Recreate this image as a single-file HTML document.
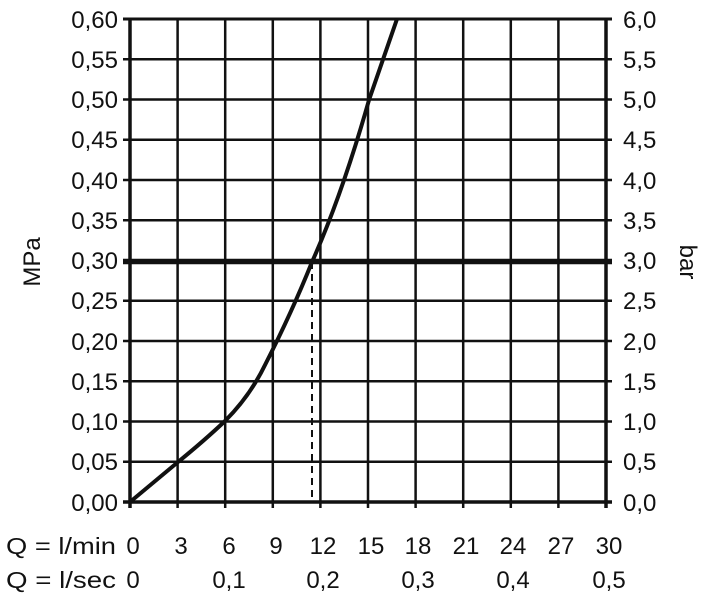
<!DOCTYPE html>
<html><head><meta charset="utf-8"><style>
body{margin:0;background:#fff}
svg text{font-family:"Liberation Sans",sans-serif;font-size:24px;fill:#111}
svg text.q{font-size:23px}
</style></head><body>
<svg width="704" height="600" xmlns="http://www.w3.org/2000/svg">
<g stroke="#111" stroke-width="2.5" fill="none">
<line x1="130" y1="19" x2="130" y2="508" stroke-width="3.5"/>
<line x1="606" y1="19" x2="606" y2="508" stroke-width="3.5"/>
<line x1="177.6" y1="19" x2="177.6" y2="508"/>
<line x1="225.2" y1="19" x2="225.2" y2="508"/>
<line x1="272.8" y1="19" x2="272.8" y2="508"/>
<line x1="320.4" y1="19" x2="320.4" y2="508"/>
<line x1="368" y1="19" x2="368" y2="508"/>
<line x1="415.6" y1="19" x2="415.6" y2="508"/>
<line x1="463.2" y1="19" x2="463.2" y2="508"/>
<line x1="510.8" y1="19" x2="510.8" y2="508"/>
<line x1="558.4" y1="19" x2="558.4" y2="508"/>
<line x1="123" y1="19" x2="612" y2="19" stroke-width="3"/>
<line x1="123" y1="59.25" x2="612" y2="59.25"/>
<line x1="123" y1="99.5" x2="612" y2="99.5"/>
<line x1="123" y1="139.75" x2="612" y2="139.75"/>
<line x1="123" y1="180" x2="612" y2="180"/>
<line x1="123" y1="220.25" x2="612" y2="220.25"/>
<line x1="123" y1="300.75" x2="612" y2="300.75"/>
<line x1="123" y1="341" x2="612" y2="341"/>
<line x1="123" y1="381.25" x2="612" y2="381.25"/>
<line x1="123" y1="421.5" x2="612" y2="421.5"/>
<line x1="123" y1="461.75" x2="612" y2="461.75"/>
<line x1="123" y1="502" x2="612" y2="502" stroke-width="3.5"/>
<line x1="123" y1="261.5" x2="612" y2="261.5" stroke-width="5.5"/>
<line x1="312" y1="262" x2="312" y2="502" stroke-width="2" stroke-dasharray="7,5"/>
<path d="M130,502 L178,462 Q205,440 225,421 Q250,396 265,365 Q292,312 312,262 Q342,195 369,100 L397,19" stroke-width="4"/>
</g>
<g text-anchor="end">
<text x="118" y="28">0,60</text><text x="118" y="68">0,55</text><text x="118" y="108">0,50</text>
<text x="118" y="148">0,45</text><text x="118" y="189">0,40</text><text x="118" y="229">0,35</text>
<text x="118" y="269">0,30</text><text x="118" y="309">0,25</text><text x="118" y="350">0,20</text>
<text x="118" y="390">0,15</text><text x="118" y="430">0,10</text><text x="118" y="470">0,05</text>
<text x="118" y="511">0,00</text>
</g>
<g>
<text x="623" y="28">6,0</text><text x="623" y="68">5,5</text><text x="623" y="108">5,0</text>
<text x="623" y="148">4,5</text><text x="623" y="189">4,0</text><text x="623" y="229">3,5</text>
<text x="623" y="269">3,0</text><text x="623" y="309">2,5</text><text x="623" y="350">2,0</text>
<text x="623" y="390">1,5</text><text x="623" y="430">1,0</text><text x="623" y="470">0,5</text>
<text x="623" y="511">0,0</text>
</g>
<text transform="translate(40,262) rotate(-90)" text-anchor="middle">MPa</text>
<text transform="translate(680,262) rotate(90)" text-anchor="middle">bar</text>
<text class="q" x="6" y="554" textLength="110" lengthAdjust="spacingAndGlyphs">Q = l/min</text>
<text class="q" x="6" y="588" textLength="110" lengthAdjust="spacingAndGlyphs">Q = l/sec</text>
<g text-anchor="middle">
<text x="133" y="554">0</text><text x="181" y="554">3</text><text x="229" y="554">6</text>
<text x="276" y="554">9</text><text x="323" y="554">12</text><text x="371" y="554">15</text>
<text x="418" y="554">18</text><text x="466" y="554">21</text><text x="513" y="554">24</text>
<text x="561" y="554">27</text><text x="609" y="554">30</text>
<text x="133" y="588">0</text><text x="229" y="588">0,1</text><text x="323" y="588">0,2</text>
<text x="418" y="588">0,3</text><text x="513" y="588">0,4</text><text x="609" y="588">0,5</text>
</g>
</svg>
</body></html>
